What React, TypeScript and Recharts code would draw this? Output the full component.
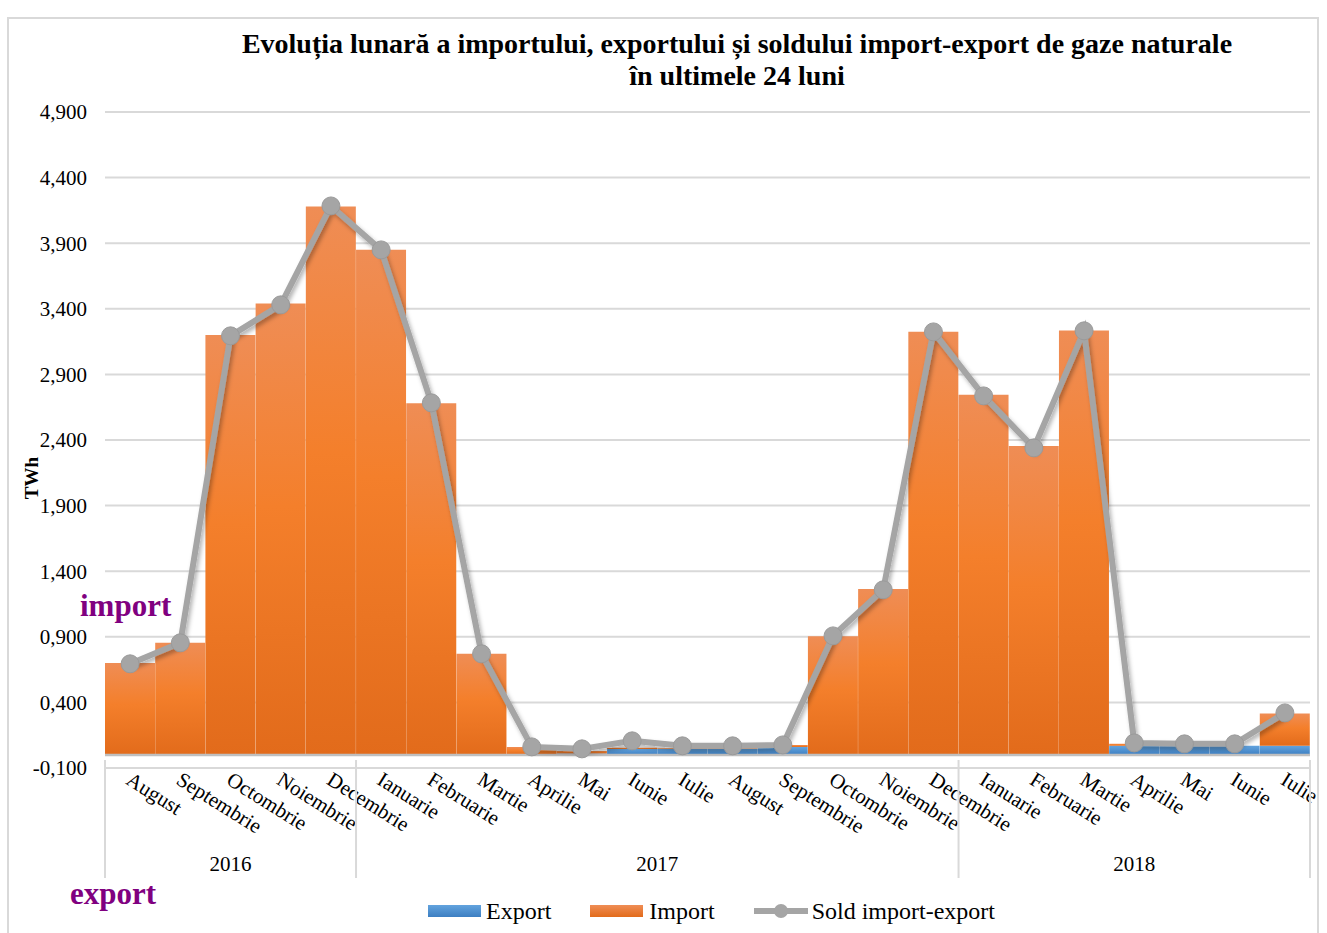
import React from "react";
import {
  ComposedChart,
  Bar,
  Line,
  XAxis,
  YAxis,
  CartesianGrid,
  ReferenceLine,
} from "recharts";

const months = [
  "August", "Septembrie", "Octombrie", "Noiembrie", "Decembrie",
  "Ianuarie", "Februarie", "Martie", "Aprilie", "Mai", "Iunie", "Iulie",
  "August", "Septembrie", "Octombrie", "Noiembrie", "Decembrie",
  "Ianuarie", "Februarie", "Martie", "Aprilie", "Mai", "Iunie", "Iulie",
];

const years = [
  { label: "2016", start: 0, count: 5 },
  { label: "2017", start: 5, count: 12 },
  { label: "2018", start: 17, count: 7 },
];

const importValues = [
  0.7, 0.855, 3.2, 3.44, 4.18, 3.85, 2.68, 0.77, 0.06, 0.02, 0.01, 0.005,
  0.005, 0.015, 0.905, 1.265, 3.225, 2.745, 2.355, 3.235, 0.015, 0, 0, 0.245,
];

const exportValues = [
  0, 0, 0, 0, 0, 0, 0, 0, 0, 0.01, 0.045, 0.045,
  0.045, 0.06, 0, 0, 0, 0, 0, 0, 0.07, 0.07, 0.07, 0.07,
];

const soldValues = [
  0.694, 0.854, 3.194, 3.43, 4.184, 3.849, 2.683, 0.77, 0.061, 0.046, 0.107, 0.069,
  0.069, 0.076, 0.907, 1.258, 3.224, 2.736, 2.34, 3.232, 0.091, 0.084, 0.084, 0.32,
];

const yTicks = [-0.1, 0.4, 0.9, 1.4, 1.9, 2.4, 2.9, 3.4, 3.9, 4.4, 4.9];

const data = months.map((m, i) => ({
  key: `${m}-${i}`,
  month: m,
  export: exportValues[i],
  import: importValues[i],
  sold: soldValues[i],
}));

const FONT = '"Liberation Serif", "Times New Roman", serif';
const PLOT_LEFT = 105;
const PLOT_RIGHT = 1310;
const BAND = (PLOT_RIGHT - PLOT_LEFT) / months.length;

function MonthTick(props: any) {
  const { x, y, index } = props;
  const i = index ?? props.payload?.index ?? 0;
  const parts: React.ReactNode[] = [];
  parts.push(
    <text
      key="m"
      transform={`translate(${x + 3},${y - 6}) rotate(32)`}
      textAnchor="start"
      dy="0.75em"
      fontSize={21}
      fontFamily={FONT}
      fill="#000"
    >
      {months[i]}
    </text>
  );
  years.forEach((yr) => {
    if (yr.start === i) {
      parts.push(
        <line
          key={`s${yr.label}`}
          x1={x - BAND / 2}
          x2={x - BAND / 2}
          y1={y - 16}
          y2={y + 102}
          stroke="#D9D9D9"
          strokeWidth={2}
        />
      );
      parts.push(
        <text
          key={`y${yr.label}`}
          x={x - BAND / 2 + (yr.count * BAND) / 2}
          y={y + 95}
          textAnchor="middle"
          fontSize={21}
          fontFamily={FONT}
          fill="#000"
        >
          {yr.label}
        </text>
      );
    }
  });
  if (i === months.length - 1) {
    parts.push(
      <line
        key="end"
        x1={x + BAND / 2}
        x2={x + BAND / 2}
        y1={y - 16}
        y2={y + 102}
        stroke="#D9D9D9"
        strokeWidth={2}
      />
    );
  }
  return <g>{parts}</g>;
}

function SoldDot(props: any) {
  const { cx, cy } = props;
  if (cx == null || cy == null) return null;
  return <circle cx={cx} cy={cy} r={9} fill="#A5A5A5" stroke="#9A9A9A" strokeWidth={1} />;
}

export default function App() {
  return (
    <div style={{ position: "absolute", left: 0, top: 0, width: 1327, height: 933, background: "#fff", fontFamily: FONT }}>
      <div
        style={{
          position: "absolute",
          left: 7,
          top: 17,
          width: 1312,
          height: 930,
          border: "2px solid #D9D9D9",
          boxSizing: "border-box",
        }}
      />
      <div
        style={{
          position: "absolute",
          left: 187,
          top: 28,
          width: 1100,
          textAlign: "center",
          fontSize: 28,
          fontWeight: "bold",
          lineHeight: "32px",
        }}
      >
        Evoluția lunară a importului, exportului și soldului import-export de gaze naturale
        <br />
        în ultimele 24 luni
      </div>
      <div style={{ position: "absolute", left: 0, top: 0 }}>
        <ComposedChart
          width={1327}
          height={933}
          data={data}
          margin={{ top: 112, right: 17, bottom: 45, left: 25 }}
          barCategoryGap={0}
          barGap={0}
        >
          <defs>
            <linearGradient id="gImport" x1="0" y1="0" x2="0" y2="1">
              <stop offset="0%" stopColor="#EF8D55" />
              <stop offset="45%" stopColor="#F47F2B" />
              <stop offset="100%" stopColor="#E26B1B" />
            </linearGradient>
            <linearGradient id="gExport" x1="0" y1="0" x2="0" y2="1">
              <stop offset="0%" stopColor="#62A3DE" />
              <stop offset="100%" stopColor="#3D7FC2" />
            </linearGradient>
            <filter id="shadow" x="-10%" y="-10%" width="130%" height="130%">
              <feDropShadow dx="2" dy="3" stdDeviation="2" floodColor="#000" floodOpacity="0.3" />
            </filter>
          </defs>
          <CartesianGrid vertical={false} stroke="#D9D9D9" strokeWidth={2} />
          <XAxis
            dataKey="key"
            interval={0}
            axisLine={false}
            tickLine={false}
            height={120}
            tick={<MonthTick />}
          />
          <YAxis
            domain={[-0.1, 4.9]}
            ticks={yTicks}
            interval={0}
            width={80}
            axisLine={false}
            tickLine={false}
            tickMargin={12}
            tick={{ fill: "#000", fontSize: 21, fontFamily: FONT }}
            tickFormatter={(v: number) => v.toFixed(3).replace(".", ",")}
          />
          <Bar dataKey="export" stackId="a" fill="url(#gExport)" isAnimationActive={false} />
          <Bar dataKey="import" stackId="a" fill="url(#gImport)" isAnimationActive={false} />
          <ReferenceLine y={0} stroke="#BFBFBF" strokeWidth={2.5} />
          <Line
            dataKey="sold"
            type="linear"
            stroke="#A5A5A5"
            strokeWidth={6}
            dot={<SoldDot />}
            activeDot={false}
            filter="url(#shadow)"
            isAnimationActive={false}
          />
        </ComposedChart>
      </div>
      <div
        style={{
          position: "absolute",
          left: 32,
          top: 478,
          transform: "translate(-50%, -50%) rotate(-90deg)",
          fontSize: 19,
          fontWeight: "bold",
        }}
      >
        TWh
      </div>
      <div
        style={{
          position: "absolute",
          left: 78,
          top: 588,
          padding: "0 2px",
          background: "#fff",
          color: "#800080",
          fontWeight: "bold",
          fontSize: 31,
          lineHeight: "36px",
        }}
      >
        import
      </div>
      <div
        style={{
          position: "absolute",
          left: 70,
          top: 876,
          color: "#800080",
          fontWeight: "bold",
          fontSize: 31,
          lineHeight: "36px",
        }}
      >
        export
      </div>
      <div
        style={{
          position: "absolute",
          left: 428,
          top: 896,
          display: "flex",
          alignItems: "center",
          fontSize: 24,
          lineHeight: "30px",
        }}
      >
        <span style={{ display: "inline-block", width: 53, height: 12, background: "linear-gradient(#62A3DE,#3D7FC2)" }} />
        <span style={{ marginLeft: 5 }}>Export</span>
        <span style={{ display: "inline-block", width: 53, height: 12, marginLeft: 39, background: "linear-gradient(#EF8D55,#E26B1B)" }} />
        <span style={{ marginLeft: 6 }}>Import</span>
        <svg width={54} height={20} style={{ marginLeft: 39 }}>
          <line x1={0} y1={10} x2={54} y2={10} stroke="#A5A5A5" strokeWidth={6} strokeLinecap="round" />
          <circle cx={27} cy={10} r={7} fill="#A5A5A5" />
        </svg>
        <span style={{ marginLeft: 4 }}>Sold import-export</span>
      </div>
    </div>
  );
}
